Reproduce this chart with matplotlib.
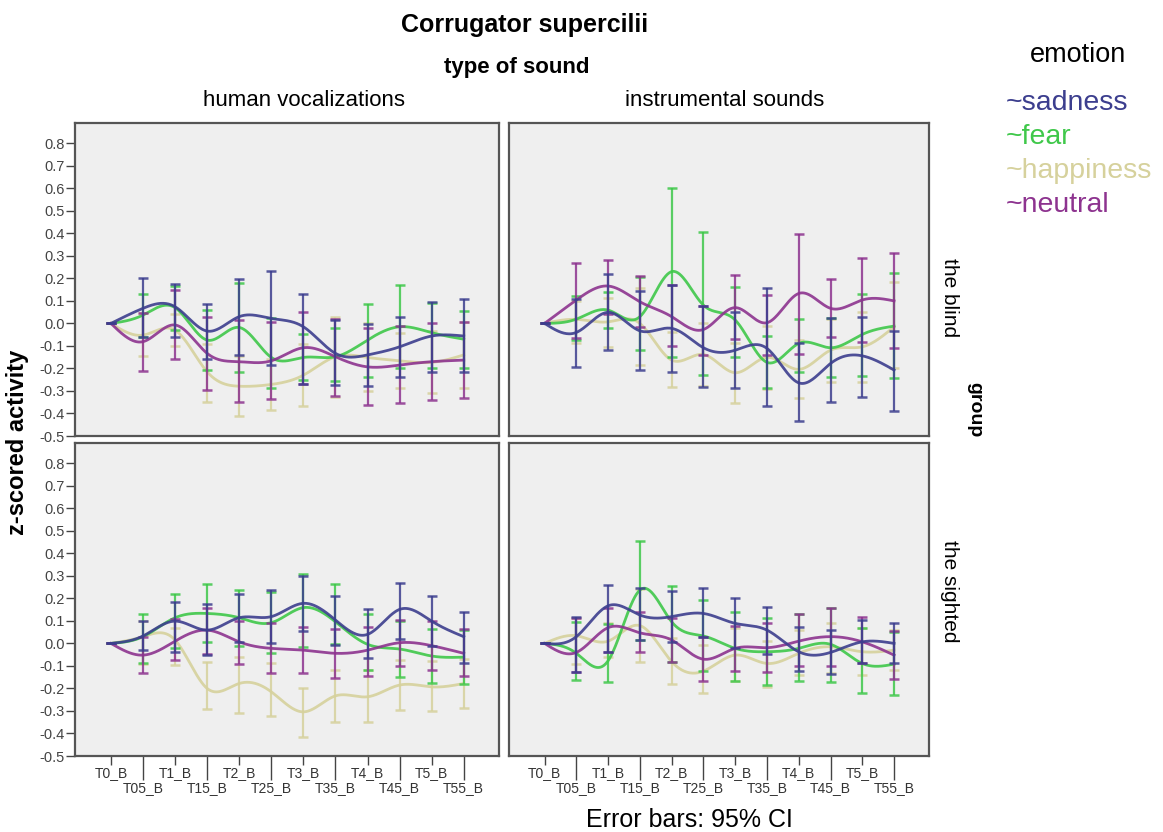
import matplotlib
matplotlib.use("Agg")
import matplotlib.pyplot as plt
import numpy as np

plt.rcParams['font.family'] = ['Liberation Sans', 'DejaVu Sans']

times = ["T0_B", "T05_B", "T1_B", "T15_B", "T2_B", "T25_B",
         "T3_B", "T35_B", "T4_B", "T45_B", "T5_B", "T55_B"]
emotions = ["sadness", "fear", "happiness", "neutral"]
sound_types = ["human vocalizations", "instrumental sounds"]
groups = ["the blind", "the sighted"]
yticks = np.arange(-5, 9) / 10

# human vocalizations, the blind
hv_blind_mean = {
    "sadness": [0, 0.067, 0.074, -0.034, 0.03, 0.022, -0.015, -0.133, -0.14, -0.104, -0.056, -0.056],
    "fear": [0, 0.037, 0.07, -0.074, -0.018, -0.151, -0.151, -0.148, -0.074, -0.015, -0.041, -0.07],
    "happiness": [0, -0.052, -0.03, -0.215, -0.279, -0.271, -0.23, -0.148, -0.151, -0.166, -0.173, -0.14],
    "neutral": [0, -0.081, -0.007, -0.133, -0.17, -0.166, -0.108, -0.148, -0.193, -0.185, -0.17, -0.163],
}
hv_blind_lo = {
    "sadness": [0, -0.06, -0.06, -0.156, -0.14, -0.185, -0.267, -0.274, -0.277, -0.237, -0.218, -0.215],
    "fear": [0, -0.06, -0.03, -0.207, -0.215, -0.286, -0.252, -0.255, -0.237, -0.2, -0.2, -0.2],
    "happiness": [0, -0.144, -0.1, -0.348, -0.412, -0.385, -0.367, -0.326, -0.3, -0.289, -0.311, -0.286],
    "neutral": [0, -0.213, -0.16, -0.296, -0.348, -0.336, -0.267, -0.323, -0.363, -0.353, -0.338, -0.33],
}
hv_blind_hi = {
    "sadness": [0, 0.2, 0.175, 0.084, 0.196, 0.233, 0.129, 0.015, -0.003, 0.027, 0.096, 0.107],
    "fear": [0, 0.13, 0.167, 0.06, 0.178, 0.022, -0.049, -0.02, 0.084, 0.172, 0.089, 0.055],
    "happiness": [0, 0.047, 0.04, -0.09, -0.146, -0.157, -0.093, 0.03, 0.0, -0.043, -0.035, 0.006],
    "neutral": [0, 0.047, 0.148, 0.03, 0.015, 0.007, 0.049, 0.018, -0.022, -0.012, 0.004, 0.007],
}

# instrumental sounds, the blind
is_blind_mean = {
    "sadness": [0, -0.04, 0.049, -0.033, -0.022, -0.108, -0.119, -0.111, -0.264, -0.178, -0.144, -0.207],
    "fear": [0, 0.019, 0.059, 0.03, 0.23, 0.081, 0.015, -0.173, -0.089, -0.108, -0.049, -0.012],
    "happiness": [0, 0.018, 0.007, 0.0, -0.163, -0.138, -0.219, -0.151, -0.204, -0.119, -0.104, -0.015],
    "neutral": [0, 0.104, 0.166, 0.096, 0.03, -0.027, 0.07, 0.003, 0.133, 0.067, 0.104, 0.1],
}
is_blind_lo = {
    "sadness": [0, -0.193, -0.116, -0.207, -0.215, -0.281, -0.286, -0.367, -0.433, -0.348, -0.326, -0.388],
    "fear": [0, -0.074, -0.022, -0.116, -0.148, -0.227, -0.151, -0.289, -0.215, -0.237, -0.233, -0.241],
    "happiness": [0, -0.089, -0.104, -0.185, -0.281, -0.28, -0.353, -0.29, -0.333, -0.259, -0.26, -0.2],
    "neutral": [0, -0.067, 0.044, -0.018, -0.099, -0.141, -0.071, -0.141, -0.138, -0.062, -0.081, -0.111],
}
is_blind_hi = {
    "sadness": [0, 0.11, 0.218, 0.145, 0.17, 0.077, 0.05, 0.159, -0.089, 0.022, 0.03, -0.033],
    "fear": [0, 0.123, 0.141, 0.207, 0.603, 0.404, 0.16, -0.056, 0.019, 0.022, 0.13, 0.222],
    "happiness": [0, 0.1, 0.111, 0.156, -0.04, 0.0, -0.086, -0.01, -0.075, 0.02, 0.052, 0.182],
    "neutral": [0, 0.27, 0.28, 0.21, 0.17, 0.079, 0.213, 0.126, 0.397, 0.197, 0.29, 0.311],
}

# human vocalizations, the sighted
hv_sighted_mean = {
    "sadness": [0, 0.033, 0.099, 0.059, 0.114, 0.119, 0.178, 0.104, 0.04, 0.151, 0.099, 0.03],
    "fear": [0, 0.03, 0.114, 0.133, 0.114, 0.092, 0.159, 0.096, -0.004, -0.025, -0.056, -0.061],
    "happiness": [0, 0.03, 0.015, -0.2, -0.178, -0.215, -0.304, -0.233, -0.237, -0.185, -0.193, -0.178],
    "neutral": [0, -0.052, 0.01, 0.059, 0.007, -0.022, -0.03, -0.044, -0.03, 0.003, -0.01, -0.044],
}
hv_sighted_lo = {
    "sadness": [0, -0.03, -0.037, -0.052, 0.007, 0.0, 0.055, -0.007, -0.064, 0.018, -0.01, -0.086],
    "fear": [0, -0.089, -0.019, 0.007, -0.012, -0.044, -0.016, -0.004, -0.119, -0.147, -0.178, -0.181],
    "happiness": [0, -0.09, -0.096, -0.292, -0.307, -0.323, -0.415, -0.348, -0.348, -0.296, -0.301, -0.289],
    "neutral": [0, -0.133, -0.074, -0.049, -0.093, -0.133, -0.133, -0.153, -0.144, -0.099, -0.119, -0.145],
}
hv_sighted_hi = {
    "sadness": [0, 0.099, 0.182, 0.173, 0.218, 0.237, 0.299, 0.212, 0.151, 0.27, 0.21, 0.138],
    "fear": [0, 0.129, 0.221, 0.265, 0.237, 0.23, 0.31, 0.265, 0.129, 0.1, 0.064, 0.06],
    "happiness": [0, 0.1, 0.07, -0.081, -0.059, -0.089, -0.196, -0.116, -0.119, -0.074, -0.08, -0.07],
    "neutral": [0, 0.03, 0.108, 0.156, 0.1, 0.09, 0.071, 0.062, 0.074, 0.104, 0.099, 0.062],
}

# instrumental sounds, the sighted
is_sighted_mean = {
    "sadness": [0, 0.03, 0.167, 0.126, 0.119, 0.133, 0.089, 0.059, -0.037, -0.04, 0.007, 0.0],
    "fear": [0, -0.044, -0.077, 0.237, 0.096, 0.033, -0.022, -0.037, -0.022, -0.004, -0.089, -0.092],
    "happiness": [0, 0.034, 0.01, 0.079, -0.081, -0.123, -0.052, -0.089, -0.044, -0.015, -0.037, -0.03],
    "neutral": [0, -0.04, 0.07, 0.047, 0.015, -0.07, -0.022, -0.019, 0.01, 0.03, 0.007, -0.052],
}
is_sighted_lo = {
    "sadness": [0, -0.129, -0.037, 0.015, 0.005, 0.03, -0.019, -0.049, -0.121, -0.138, -0.089, -0.089],
    "fear": [0, -0.163, -0.173, 0.015, -0.084, -0.123, -0.166, -0.185, -0.167, -0.17, -0.222, -0.23],
    "happiness": [0, -0.09, -0.06, -0.081, -0.182, -0.219, -0.167, -0.193, -0.14, -0.13, -0.14, -0.12],
    "neutral": [0, -0.129, -0.037, -0.04, -0.084, -0.167, -0.123, -0.129, -0.099, -0.101, -0.089, -0.16],
}
is_sighted_hi = {
    "sadness": [0, 0.119, 0.259, 0.244, 0.234, 0.244, 0.203, 0.161, 0.074, 0.059, 0.104, 0.089],
    "fear": [0, 0.096, 0.086, 0.455, 0.255, 0.193, 0.138, 0.111, 0.129, 0.156, 0.07, 0.05],
    "happiness": [0, 0.114, 0.09, 0.24, 0.025, -0.007, 0.067, 0.01, 0.06, 0.09, 0.07, 0.06],
    "neutral": [0, 0.114, 0.156, 0.141, 0.111, 0.03, 0.077, 0.089, 0.129, 0.159, 0.119, 0.055],
}

colors = {"sadness": "#3c3e8e", "fear": "#3fc84a",
          "happiness": "#d6d19c", "neutral": "#8d338f"}

panels = [
    [(hv_blind_mean, hv_blind_lo, hv_blind_hi), (is_blind_mean, is_blind_lo, is_blind_hi)],
    [(hv_sighted_mean, hv_sighted_lo, hv_sighted_hi), (is_sighted_mean, is_sighted_lo, is_sighted_hi)],
]


def smooth(y, n=400):
    # natural cubic spline through the points (unit spacing)
    y = np.asarray(y, dtype=float)
    k = len(y)
    A = np.zeros((k, k))
    r = np.zeros(k)
    A[0, 0] = A[-1, -1] = 1
    for i in range(1, k - 1):
        A[i, i - 1], A[i, i], A[i, i + 1] = 1, 4, 1
        r[i] = 6 * (y[i + 1] - 2 * y[i] + y[i - 1])
    M = np.linalg.solve(A, r)
    xs = np.linspace(0, k - 1, n)
    i = np.minimum(xs.astype(int), k - 2)
    t = xs - i
    ys = (1 - t) * y[i] + t * y[i + 1] + ((1 - t) ** 3 - (1 - t)) * M[i] / 6 + (t ** 3 - t) * M[i + 1] / 6
    return xs, ys


W, H = 1163, 832
fig = plt.figure(figsize=(W / 100, H / 100), dpi=100)

col_x = [(75, 499), (509, 929)]
row_y = [(123, 436), (443, 756)]
x = np.arange(len(times))

draw_order = ["happiness", "fear", "neutral", "sadness"]

for r in range(2):
    for c in range(2):
        x0, x1 = col_x[c]
        y0, y1 = row_y[r]
        ax = fig.add_axes([x0 / W, 1 - y1 / H, (x1 - x0) / W, (y1 - y0) / H])
        ax.set_facecolor("#efefef")
        for s in ax.spines.values():
            s.set_color("#555555")
            s.set_linewidth(1.6)
        mean, lo, hi = panels[r][c]
        for e in draw_order:
            m = np.array(mean[e])
            l = np.array(lo[e])
            h = np.array(hi[e])
            ax.errorbar(x, m, yerr=[m - l, h - m], fmt="none", ecolor=colors[e],
                        elinewidth=1.6, capsize=3.5, capthick=1.8, alpha=0.85)
            xs, ys = smooth(m)
            ax.plot(xs, ys, color=colors[e], lw=2.0, alpha=0.9)
        ax.set_xlim(-1.12, 12.1)
        ax.set_ylim(-0.5, 0.89)
        ax.set_yticks(yticks)
        if c == 0:
            ax.set_yticklabels(["%.1f" % v for v in yticks])
            ax.tick_params(axis="y", labelsize=10.5, labelcolor="#444444", length=6.5,
                           width=1, color="#444444", pad=1)
        else:
            ax.tick_params(axis="y", left=False, labelleft=False)
        if r == 1:
            ax.set_xticks(x[::2])
            ax.set_xticklabels(times[::2])
            ax.set_xticks(x[1::2], minor=True)
            ax.set_xticklabels(times[1::2], minor=True)
            ax.tick_params(axis="x", which="major", length=6.5, width=1, color="#444444",
                           labelsize=10, labelcolor="#333333", pad=1)
            ax.tick_params(axis="x", which="minor", length=17, width=1, color="#444444",
                           labelsize=10, labelcolor="#333333", pad=1)
        else:
            ax.set_xticks([])

# headers
fig.text(525 / W, 1 - 25 / H, "Corrugator supercilii", ha="center", va="center",
         fontsize=18, fontweight="bold")
fig.text(517 / W, 1 - 68 / H, "type of sound", ha="center", va="center",
         fontsize=16, fontweight="bold")
header_x = [304, 725]
for c in range(2):
    fig.text(header_x[c] / W, 1 - 101 / H, sound_types[c],
             ha="center", va="center", fontsize=16)
group_y = [298, 591]
for r in range(2):
    fig.text(950 / W, 1 - group_y[r] / H, groups[r],
             ha="center", va="center", fontsize=15, rotation=-90)
fig.text(975 / W, 1 - 410 / H, "group", ha="center", va="center",
         fontsize=14, fontweight="bold", rotation=-90)
fig.text(18 / W, 1 - 442 / H, "z-scored activity", ha="center", va="center",
         fontsize=17, fontweight="bold", rotation=90)
fig.text(689 / W, 1 - 820 / H, "Error bars: 95% CI", ha="center", va="center",
         fontsize=18)

# legend
fig.text(1078 / W, 1 - 55 / H, "emotion", ha="center", va="center", fontsize=19.5)
for k, e in enumerate(emotions):
    fig.text(1006 / W, 1 - (103 + 34 * k) / H, "~" + e, ha="left", va="center",
             fontsize=20.5, color=colors[e])

fig.savefig("out.png", dpi=100)
